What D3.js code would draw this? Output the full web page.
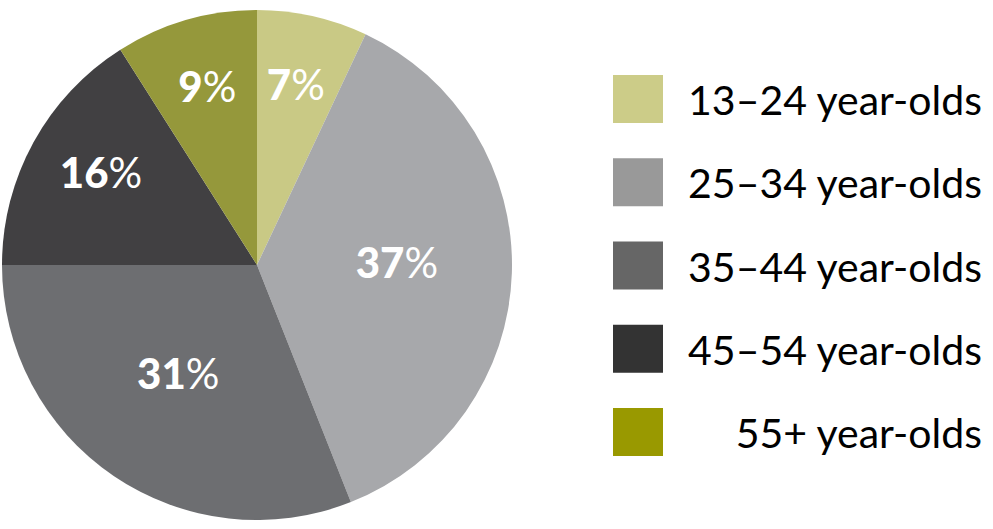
<!DOCTYPE html>
<html>
<head>
<meta charset="utf-8">
<script src="https://cdn.jsdelivr.net/npm/d3@7"></script>
<style>
	body { margin: 0; background: #fff; }
	svg { display: block; font-family: Lato, "Open Sans", sans-serif; }
</style>
</head>
<body>
<svg id="chart" width="993" height="529"></svg>
<script>
// Age groups and their shares (percent)
const categories = ["13–24 year-olds", "25–34 year-olds", "35–44 year-olds", "45–54 year-olds", "55+ year-olds"];
const shares = [7, 37, 31, 16, 9];
const sliceColors = ["#c9c985", "#a7a8ab", "#6d6e71", "#414042", "#95983b"];
const legendColors = ["#cccc88", "#999999", "#666666", "#333333", "#999900"];

const svg = d3.select("#chart");

const cx = 257, cy = 265, radius = 255;

const pie = d3.pie().sort(null).value(d => d.value);
const arc = d3.arc().innerRadius(0).outerRadius(radius);

// smaller slices get their labels pushed further out
const labelRadius = d3.scaleLinear().domain([16, 31]).range([178, 140]).clamp(true);

const data = categories.map((c, i) => ({ name: c, value: shares[i], i: i }));
const arcs = pie(data);

const g = svg.append("g").attr("transform", `translate(${cx},${cy})`);

g.selectAll("path.slice")
	.data(arcs)
	.enter().append("path")
	.attr("class", "slice")
	.attr("d", arc)
	.attr("fill", d => sliceColors[d.data.i]);

const labels = g.selectAll("text.pct")
	.data(arcs)
	.enter().append("text")
	.attr("class", "pct")
	.attr("transform", d => {
		const r = labelRadius(d.data.value);
		const c = d3.arc().innerRadius(r).outerRadius(r).centroid(d);
		return `translate(${c[0]},${c[1]})`;
	})
	.attr("dy", "0.2em")
	.attr("text-anchor", "middle")
	.attr("fill", "#fff")
	.style("font-size", "42px");

labels.append("tspan").attr("font-weight", 900).text(d => d.data.value);
labels.append("tspan").attr("font-weight", 400).text("%");

// Legend
const legendY = d3.scalePoint().domain(categories).range([75, 408]);

const legend = svg.append("g");

legend.selectAll("rect")
	.data(categories)
	.enter().append("rect")
	.attr("x", 613)
	.attr("y", d => legendY(d))
	.attr("width", 50)
	.attr("height", 48)
	.attr("fill", (d, i) => legendColors[i]);

legend.selectAll("text")
	.data(categories)
	.enter().append("text")
	.attr("x", 982)
	.attr("y", d => legendY(d) + 40)
	.attr("text-anchor", "end")
	.attr("fill", "#000")
	.style("font-size", "41px")
	.text(d => d);
</script>
</body>
</html>
